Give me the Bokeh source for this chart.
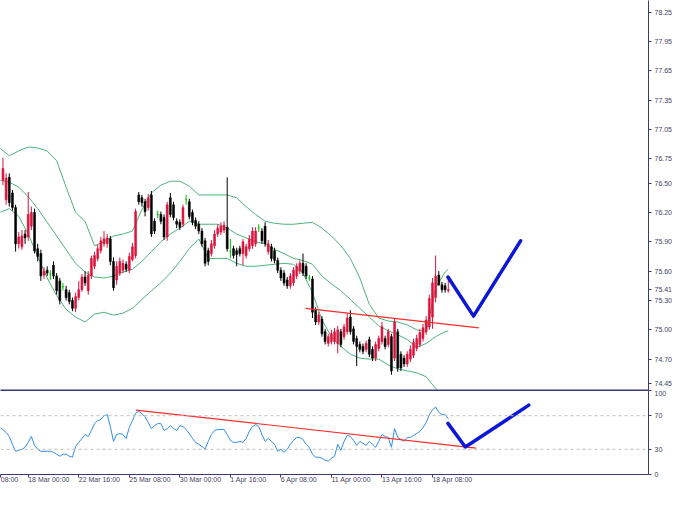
from bokeh.plotting import figure
from bokeh.layouts import column
from bokeh.models import (Range1d, FixedTicker, LinearAxis, Span,
                          ColumnDataSource, NumeralTickFormatter)
from bokeh.embed import file_html
from bokeh.resources import INLINE

# ---------------- data ----------------
bars = list(range(-8, 134))
opens = [76.53, 76.33, 76.56, 76.40, 76.25, 75.88, 75.85, 75.98, 75.95, 76.06, 76.20, 75.83, 75.78, 75.56, 75.61, 75.57,
         75.66, 75.55, 75.50, 75.44, 75.41, 75.38, 75.30, 75.22, 75.33, 75.41, 75.54, 75.40, 75.55, 75.65, 75.73, 75.81,
         75.88, 75.88, 75.93, 75.70, 75.51, 75.58, 75.61, 75.67, 75.61, 75.72, 75.76, 76.38, 76.35, 76.31, 76.25, 76.38,
         76.11, 76.18, 76.18, 76.15, 75.95, 76.35, 76.28, 76.11, 76.10, 76.08, 76.33, 76.31, 76.20, 76.12, 76.08, 76.01,
         75.91, 75.81, 75.78, 75.86, 75.98, 76.00, 76.02, 76.05, 75.80, 75.83, 75.81, 75.83, 75.78, 75.76, 75.83, 75.86,
         75.88, 76.04, 76.01, 76.06, 75.80, 75.85, 75.81, 75.71, 75.61, 75.58, 75.51, 75.45, 75.48, 75.55, 75.60, 75.68,
         75.65, 75.53, 75.52, 75.20, 75.08, 75.11, 74.98, 74.86, 74.88, 74.88, 74.86, 74.98, 74.93, 74.98, 75.13, 75.01,
         74.91, 74.85, 74.83, 74.80, 74.90, 74.80, 74.71, 74.81, 74.88, 74.91, 74.85, 74.93, 74.71, 74.98, 74.75, 74.71,
         74.65, 74.70, 74.74, 74.81, 74.85, 74.91, 74.98, 75.03, 75.13, 75.33, 75.56, 75.46, 75.45, 75.40]
highs = [76.76, 76.60, 76.60, 76.43, 76.28, 76.00, 76.02, 76.02, 76.41, 76.26, 76.24, 75.88, 75.82, 75.64, 75.65, 75.61,
         75.70, 75.58, 75.53, 75.48, 75.45, 75.41, 75.33, 75.38, 75.50, 75.57, 75.60, 75.60, 75.76, 75.80, 75.87, 75.95,
         76.01, 75.98, 75.96, 75.74, 75.70, 75.74, 75.72, 75.70, 75.79, 75.89, 76.24, 76.41, 76.38, 76.34, 76.39, 76.42,
         76.14, 76.22, 76.21, 76.18, 76.31, 76.40, 76.31, 76.14, 76.13, 76.28, 76.38, 76.34, 76.23, 76.15, 76.11, 76.04,
         75.94, 75.84, 75.92, 76.02, 76.08, 76.10, 76.11, 76.56, 75.93, 75.86, 75.84, 75.86, 75.93, 75.88, 75.97, 76.05,
         76.05, 76.08, 76.04, 76.10, 75.92, 75.88, 75.84, 75.74, 75.64, 75.61, 75.54, 75.58, 75.64, 75.68, 75.71, 75.78,
         75.68, 75.56, 75.55, 75.23, 75.18, 75.14, 75.01, 74.96, 75.00, 75.02, 75.04, 75.01, 75.06, 75.17, 75.20, 75.04,
         74.94, 74.88, 74.86, 74.89, 74.93, 74.83, 74.88, 74.94, 75.08, 74.94, 75.01, 74.96, 75.12, 75.01, 74.78, 74.74,
         74.78, 74.84, 74.91, 74.95, 75.01, 75.06, 75.14, 75.36, 75.53, 75.76, 75.60, 75.49, 75.48, 75.55]
lows = [76.48, 76.28, 76.26, 76.22, 75.80, 75.83, 75.82, 75.88, 75.91, 76.02, 75.78, 75.70, 75.50, 75.52, 75.55, 75.51,
        75.52, 75.36, 75.26, 75.40, 75.30, 75.26, 75.19, 75.18, 75.30, 75.39, 75.45, 75.36, 75.52, 75.62, 75.70, 75.78,
        75.85, 75.84, 75.66, 75.40, 75.46, 75.55, 75.58, 75.59, 75.58, 75.70, 75.73, 76.28, 76.26, 76.16, 76.22, 75.95,
        75.98, 76.14, 76.08, 75.92, 75.91, 76.15, 76.12, 76.04, 76.02, 76.05, 76.28, 76.13, 76.07, 76.03, 75.98, 75.85,
        75.65, 75.66, 75.75, 75.83, 75.95, 75.97, 75.99, 75.80, 75.73, 75.73, 75.65, 75.75, 75.66, 75.73, 75.80, 75.83,
        75.85, 76.00, 75.88, 75.85, 75.77, 75.70, 75.68, 75.58, 75.50, 75.45, 75.42, 75.42, 75.45, 75.52, 75.57, 75.55,
        75.52, 75.50, 75.12, 75.05, 75.05, 74.93, 74.85, 74.83, 74.85, 74.85, 74.76, 74.82, 74.90, 74.95, 74.95, 74.85,
        74.63, 74.77, 74.75, 74.77, 74.72, 74.68, 74.68, 74.78, 74.85, 74.80, 74.82, 74.54, 74.68, 74.57, 74.58, 74.62,
        74.62, 74.67, 74.71, 74.78, 74.82, 74.88, 74.95, 75.00, 75.01, 75.28, 75.45, 75.38, 75.38, 75.38]
closes = [76.65, 76.55, 76.30, 76.25, 75.88, 75.95, 75.96, 75.94, 76.18, 76.20, 75.81, 75.75, 75.55, 75.60, 75.58, 75.57,
          75.55, 75.40, 75.30, 75.44, 75.33, 75.29, 75.22, 75.34, 75.41, 75.54, 75.48, 75.56, 75.73, 75.76, 75.83, 75.91,
          75.93, 75.94, 75.70, 75.43, 75.65, 75.70, 75.68, 75.62, 75.75, 75.85, 76.21, 76.31, 76.30, 76.21, 76.35, 75.98,
          76.01, 76.18, 76.11, 75.95, 76.28, 76.18, 76.15, 76.08, 76.05, 76.25, 76.33, 76.16, 76.10, 76.06, 76.01, 75.88,
          75.68, 75.70, 75.88, 75.98, 76.04, 76.06, 76.07, 75.83, 75.80, 75.76, 75.77, 75.78, 75.90, 75.85, 75.93, 76.01,
          76.01, 76.04, 75.91, 75.88, 75.88, 75.73, 75.71, 75.61, 75.53, 75.48, 75.45, 75.55, 75.61, 75.65, 75.68, 75.58,
          75.55, 75.53, 75.18, 75.08, 75.15, 74.96, 74.88, 74.93, 74.96, 74.98, 75.00, 74.85, 75.03, 75.12, 74.98, 74.88,
          74.83, 74.80, 74.78, 74.86, 74.75, 74.71, 74.85, 74.91, 75.03, 74.83, 74.98, 74.58, 75.08, 74.61, 74.61, 74.65,
          74.75, 74.80, 74.87, 74.91, 74.97, 75.02, 75.10, 75.32, 75.48, 75.55, 75.46, 75.41, 75.41, 75.41]

# Bollinger bands
bb_bars = [-9, -6, -3, 0, 3, 6, 9, 12, 15, 18, 21, 24, 27, 30, 33, 36, 39, 42, 45, 48, 51, 54, 57, 60, 63, 66, 69,
           72, 75, 78, 81, 84, 87, 90, 93, 96, 99, 102, 105, 108, 111, 114, 117, 120, 123, 126, 129, 132, 133]
bb_upper = [76.86, 76.78, 76.83, 76.87, 76.86, 76.83, 76.73, 76.46, 76.20, 76.11, 75.86, 75.90, 75.96, 75.98, 76.01,
            76.23, 76.40, 76.48, 76.52, 76.52, 76.47, 76.38, 76.38, 76.38, 76.38, 76.35, 76.26, 76.18, 76.11, 76.09,
            76.08, 76.08, 76.09, 76.10, 76.04, 75.96, 75.86, 75.73, 75.53, 75.26, 75.12, 75.09, 75.08, 75.05, 75.00,
            74.98, 75.43, 75.59, 75.62]
bb_middle = [76.53, 76.51, 76.46, 76.36, 76.24, 76.10, 75.96, 75.82, 75.68, 75.59, 75.54, 75.53, 75.55, 75.59, 75.62,
             75.70, 75.80, 75.90, 75.98, 76.04, 76.11, 76.08, 76.08, 76.08, 76.04, 75.98, 75.94, 75.90, 75.88, 75.82,
             75.78, 75.73, 75.71, 75.67, 75.55, 75.47, 75.40, 75.31, 75.22, 75.13, 75.04, 74.99, 74.95, 74.90, 74.82,
             74.86, 74.93, 74.98, 74.99]
bb_lower = [76.20, 76.24, 76.16, 75.98, 75.75, 75.53, 75.35, 75.21, 75.13, 75.08, 75.16, 75.18, 75.15, 75.17, 75.22,
            75.31, 75.40, 75.48, 75.58, 75.70, 75.83, 75.93, 75.73, 75.73, 75.73, 75.68, 75.65, 75.65, 75.66, 75.67,
            75.68, 75.67, 75.58, 75.38, 75.10, 74.93, 74.83, 74.75, 74.71, 74.70, 74.70, 74.64, 74.60, 74.58, 74.56,
            74.52, 74.40, 74.26, 74.22]

rsi_bars = list(range(-9, 134))
rsi_vals = [55.9, 53.5, 50.0, 45.3, 35.9, 27.6, 28.8, 30.0, 32.4, 38.2, 45.3, 34.7, 30.0, 27.6, 27.6, 27.6, 27.6,
            26.5, 24.1, 21.8, 24.1, 24.1, 21.8, 20.6, 33.5, 38.2, 42.9, 47.6, 45.3, 52.4, 60.6, 64.1, 65.3, 70.0,
            71.2, 57.1, 39.4, 47.6, 48.8, 47.6, 42.9, 55.9, 64.1, 73.0, 75.5, 72.4, 68.8, 61.8, 54.7, 58.2, 60.6,
            60.6, 52.4, 54.7, 58.2, 54.7, 52.4, 58.2, 57.1, 53.5, 48.8, 42.9, 38.2, 35.9, 33.5, 30.0, 39.4, 47.6,
            52.4, 53.5, 53.5, 53.5, 47.6, 40.6, 38.2, 38.2, 39.4, 38.2, 42.9, 51.2, 57.1, 59.4, 57.1, 47.6, 39.4,
            42.9, 39.4, 35.9, 27.6, 30.0, 26.5, 30.0, 35.9, 40.6, 44.1, 44.1, 41.8, 35.9, 32.4, 24.1, 20.6, 20.6,
            19.4, 17.1, 15.9, 19.4, 21.8, 35.9, 28.8, 39.4, 46.5, 45.3, 40.6, 34.7, 39.4, 37.1, 34.7, 39.4, 35.9,
            32.4, 39.4, 47.6, 45.3, 44.1, 32.4, 54.7, 44.1, 41.8, 39.4, 44.1, 44.1, 46.5, 48.8, 51.2, 55.9, 61.8,
            71.2, 77.0, 80.3, 74.0, 71.2, 71.2, 66.5]

# drawn objects (trend lines and forecast arrows)
trend_bars = [87.8, 142.7]
trend_price = [75.22, 75.02]
arrow_bars = [132.9, 141.0, 155.9]
arrow_price = [75.54, 75.14, 75.91]
rsi_trend_bars = [34.1, 141.8]
rsi_trend_vals = [76.7, 31.5]
rsi_arrow_bars = [132.9, 138.4, 158.5]
rsi_arrow_vals = [60.9, 32.7, 82.6]

last_price = 75.41
price_ticks = [78.25, 77.95, 77.65, 77.35, 77.05, 76.75, 76.50, 76.20, 75.90, 75.60, last_price, 75.30, 75.00,
               74.70, 74.45]
rsi_ticks = [100, 70, 30, 0]
rsi_levels = [70, 30]
# first label is the visible tail of "13 Mar 08:00", cut by the left edge
time_ticks = [-8.7, 0, 16, 32, 48, 64, 80, 96, 112, 128]
time_labels = ["08:00", "18 Mar 00:00", "22 Mar 16:00", "25 Mar 08:00", "30 Mar 00:00", "1 Apr 16:00",
               "6 Apr 08:00", "11 Apr 00:00", "13 Apr 16:00", "18 Apr 08:00"]

# ---------------- styling ----------------
FONT = "Liberation Sans"
AXC = "#3a3a6e"
TXT = "#44445e"
UP = "#dc143c"
DN = "#000000"
DOJI = "#00c000"
BB = "#4db37c"
RSI = "#2f8fe8"
TREND = "#ff2b2b"
ARROW = "#0b16d6"

x_rng = Range1d(-8.78, 196.4)

p = figure(frame_width=648, frame_height=390, x_range=x_rng, y_range=Range1d(74.379, 78.369),
           output_backend="svg", toolbar_location=None, x_axis_location=None, y_axis_location=None,
           min_border_left=0, min_border_right=0, min_border_top=0, min_border_bottom=0,
           outline_line_color=None, background_fill_color="white", border_fill_color="white")
p.xgrid.visible = False
p.ygrid.visible = False

colors = [UP if c > o else (DN if c < o else DOJI) for o, c in zip(opens, closes)]
src = ColumnDataSource(dict(x=bars, o=opens, h=highs, l=lows, c=closes, color=colors,
                            top=[max(o, c) for o, c in zip(opens, closes)],
                            bot=[min(o, c) for o, c in zip(opens, closes)]))

p.line(bb_bars, bb_upper, color=BB, line_width=1)
p.line(bb_bars, bb_middle, color=BB, line_width=1)
p.line(bb_bars, bb_lower, color=BB, line_width=1)
p.segment(x0="x", y0="l", x1="x", y1="h", color="color", line_width=1, source=src)
p.vbar(x="x", width=0.6, top="top", bottom="bot", fill_color="color", line_color="color",
       line_width=0.6, source=src)
p.line(trend_bars, trend_price, color=TREND, line_width=1.2)
p.line(arrow_bars, arrow_price, color=ARROW, line_width=3.5, line_join="round", line_cap="round")

ry = LinearAxis(ticker=FixedTicker(ticks=price_ticks), formatter=NumeralTickFormatter(format="0.00"))
ry.axis_line_color = AXC
ry.major_tick_line_color = AXC
ry.major_tick_in = 0
ry.major_tick_out = 3
ry.minor_tick_line_color = None
ry.major_label_standoff = 3
ry.major_label_text_font = FONT
ry.major_label_text_font_size = "7px"
ry.major_label_text_color = TXT
p.add_layout(ry, "right")

bx = LinearAxis(ticker=FixedTicker(ticks=[]))
bx.axis_line_color = AXC
bx.axis_line_width = 2
bx.major_tick_line_color = None
bx.minor_tick_line_color = None
bx.major_tick_out = 0
bx.major_label_standoff = 0
bx.major_label_text_font_size = "0px"
p.add_layout(bx, "below")

# ---------------- RSI panel ----------------
r = figure(frame_width=648, frame_height=84, x_range=x_rng, y_range=Range1d(0, 100),
           output_backend="svg", toolbar_location=None, x_axis_location=None, y_axis_location=None,
           min_border_left=0, min_border_right=0, min_border_top=0, min_border_bottom=0,
           outline_line_color=None, background_fill_color="white", border_fill_color="white")
r.xgrid.visible = False
r.ygrid.visible = False

for lv in rsi_levels:
    r.add_layout(Span(location=lv, dimension="width", line_color="#bdbdbd", line_dash="3 3", line_width=1))
r.line(rsi_bars, rsi_vals, color=RSI, line_width=1)
r.line(rsi_trend_bars, rsi_trend_vals, color=TREND, line_width=1.2)
r.line(rsi_arrow_bars, rsi_arrow_vals, color=ARROW, line_width=3.5, line_join="round", line_cap="round")

rr = LinearAxis(ticker=FixedTicker(ticks=rsi_ticks))
rr.axis_line_color = AXC
rr.major_tick_line_color = AXC
rr.major_tick_in = 0
rr.major_tick_out = 3
rr.minor_tick_line_color = None
rr.major_label_standoff = 3
rr.major_label_text_font = FONT
rr.major_label_text_font_size = "7px"
rr.major_label_text_color = TXT
r.add_layout(rr, "right")

ta = LinearAxis(ticker=FixedTicker(ticks=[]))
ta.axis_line_color = AXC
ta.axis_line_width = 1
ta.major_tick_line_color = None
ta.minor_tick_line_color = None
ta.major_tick_out = 0
ta.major_label_standoff = 0
ta.major_label_text_font_size = "0px"
r.add_layout(ta, "above")

tx = LinearAxis(ticker=FixedTicker(ticks=time_ticks),
                major_label_overrides={t: s for t, s in zip(time_ticks, time_labels)})
tx.axis_line_color = AXC
tx.major_tick_line_color = AXC
tx.major_tick_in = 0
tx.major_tick_out = 3
tx.minor_tick_line_color = None
tx.major_label_standoff = 2
tx.major_label_orientation = -0.0001   # tiny negative angle -> labels start at their tick
tx.major_label_text_font = FONT
tx.major_label_text_font_size = "7px"
tx.major_label_text_color = TXT
r.add_layout(tx, "below")

layout = column(p, r, spacing=0)
open("out.html", "w").write(file_html(layout, INLINE))
